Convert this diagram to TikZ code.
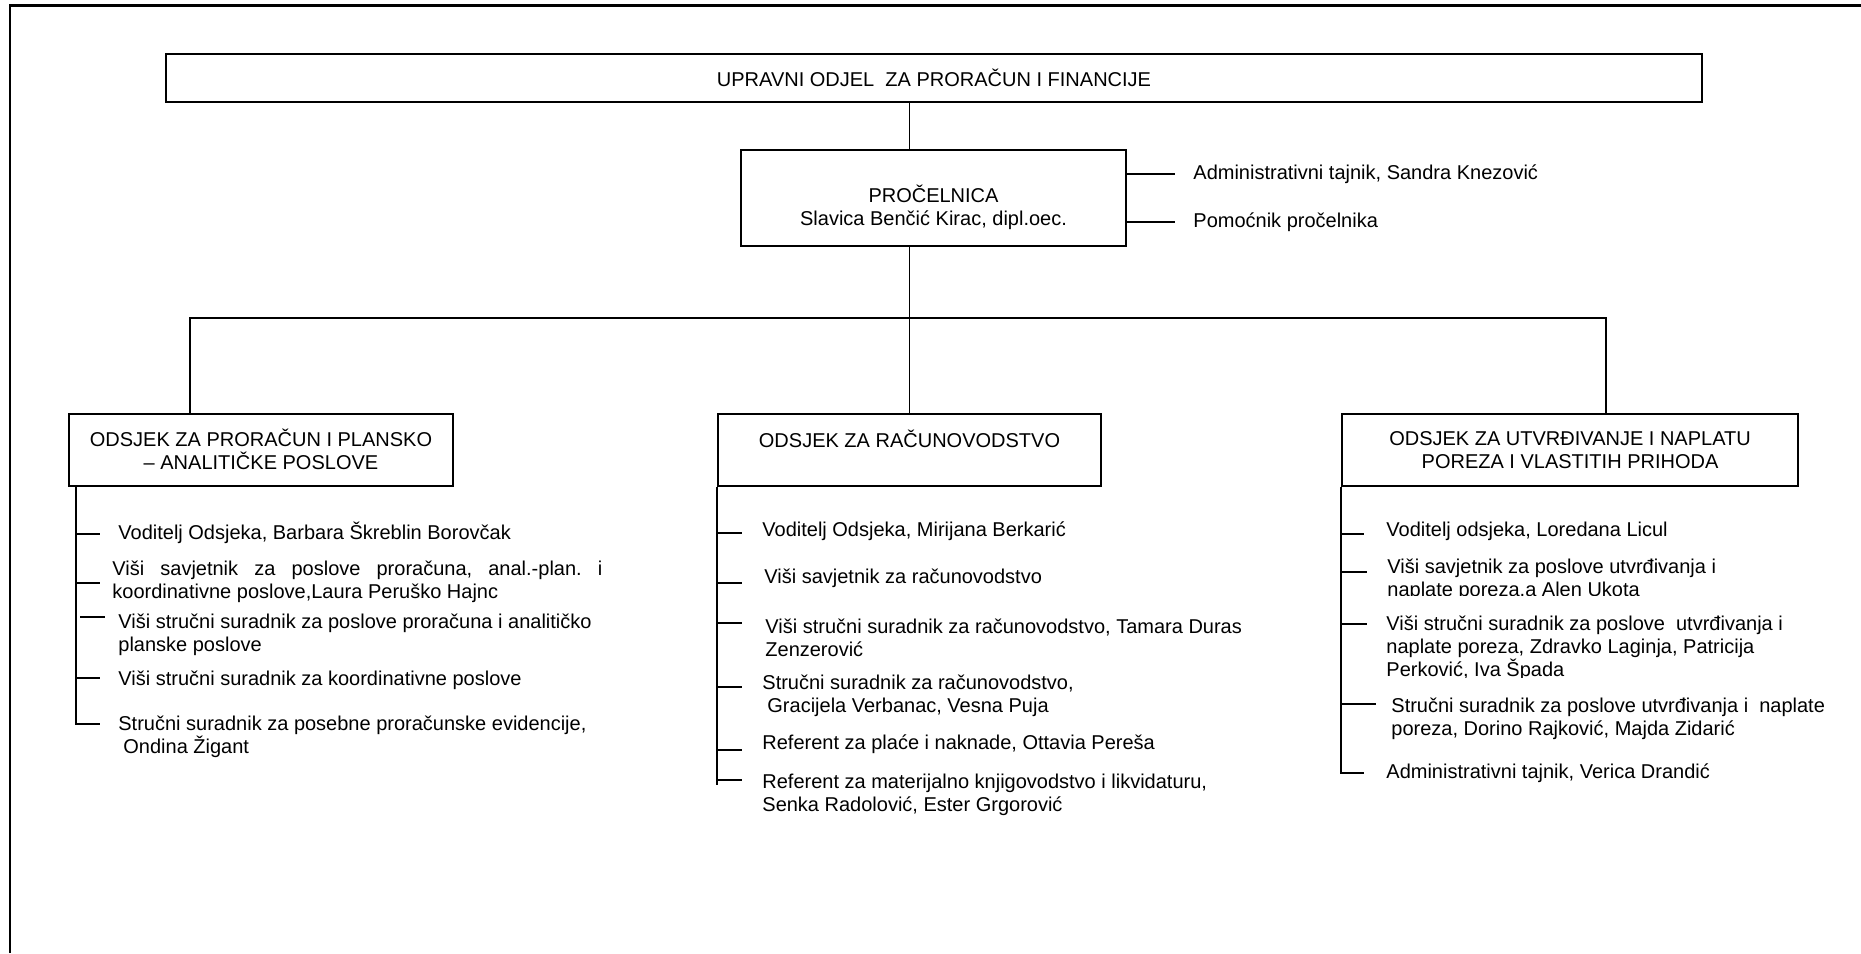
\documentclass[tikz,border=0pt]{standalone}
\usepackage{fontspec}
\setmainfont{Liberation Sans}
\usetikzlibrary{positioning,calc}
\frenchspacing

\begin{document}
\begin{tikzpicture}[
    x=0.5pt, y=-0.5pt,
    every node/.style={font=\fontsize{10}{11.5}\selectfont},
    unit/.style={
      rectangle, draw=black, line width=1pt,
      align=center, inner sep=0pt
    },
    post/.style={anchor=west, inner sep=0pt, align=left},
    link/.style={line width=0.8pt},
    frame/.style={line width=1.3pt}
  ]
  \useasboundingbox (0,0) rectangle (1861,953);
  % outer frame
  \draw[frame] (10,953) -- (10,5.5) -- (1861,5.5);

  % Nodes -- top
  \node[unit, minimum width=768pt, minimum height=24pt] (odjel) at (934,78) {UPRAVNI ODJEL\ \ ZA PRORAČUN I FINANCIJE};
  \node[unit, minimum width=192.5pt, minimum height=48pt] (head) at (933.5,198) {};
  \node[align=center, inner sep=0pt] (headtxt) at ([yshift=-4.5pt]head.center) {PROČELNICA\\Slavica Benčić Kirac, dipl.oec.};
  \node[post] (tajnik) at (1193,174) {Administrativni tajnik, Sandra Knezović};
  \node[post] (pomocnik) at (1193,222) {Pomoćnik pročelnika};
  % Nodes -- departments
  \node[unit, minimum width=192pt, minimum height=36pt] (plan) at (261,449.5) {ODSJEK ZA PRORAČUN I PLANSKO\\– ANALITIČKE POSLOVE};
  \node[unit, minimum width=191.5pt, minimum height=36pt] (racun) at (909.5,450) {ODSJEK ZA RAČUNOVODSTVO\\\vphantom{POSLOVE}};
  \node[unit, minimum width=228pt, minimum height=36pt] (porez) at (1570,450) {ODSJEK ZA UTVRĐIVANJE I NAPLATU\\POREZA I VLASTITIH PRIHODA};

  % Nodes -- left column
  \node[post] (pl1) at (118,533) {Voditelj Odsjeka, Barbara Škreblin Borovčak};
  \node[post] (pl2) at (112,582) {\makebox[245pt][s]{Viši savjetnik za poslove proračuna, anal.-plan. i}\\koordinativne poslove,Laura Peruško Hajnc};
  \node[post] (pl3) at (118,634.5) {Viši stručni suradnik za poslove proračuna i analitičko\\planske poslove};
  \node[post] (pl4) at (118,680) {Viši stručni suradnik za koordinativne poslove};
  \node[post] (pl5) at (118,736.5) {Stručni suradnik za posebne proračunske evidencije,\\\hspace{2.5pt}Ondina Žigant};
  % Nodes -- middle column
  \node[post] (ra1) at (762,531) {Voditelj Odsjeka, Mirijana Berkarić};
  \node[post] (ra2) at (764,578) {Viši savjetnik za računovodstvo};
  \node[post] (ra3) at (765,637.5) {Viši stručni suradnik za računovodstvo, Tamara Duras\\Zenzerović};
  \node[post] (ra4) at (762,695.5) {Stručni suradnik za računovodstvo,\\\hspace{2.5pt}Gracijela Verbanac, Vesna Puja};
  \node[post] (ra5) at (762,744) {Referent za plaće i naknade, Ottavia Pereša};
  \node[post] (ra6) at (762,795) {Referent za materijalno knjigovodstvo i likvidaturu,\\Senka Radolović, Ester Grgorović};
  % Nodes -- right column (two of them cut off at the bottom)
  \node[post] (po1) at (1386,531) {Voditelj odsjeka, Loredana Licul};
  \begin{scope}
    \clip (1380,545) rectangle (1800,595);
    \node[post] (po2) at (1387,579.5) {Viši savjetnik za poslove utvrđivanja i\\naplate poreza,a Alen Ukota};
  \end{scope}
  \begin{scope}
    \clip (1380,605) rectangle (1800,677);
    \node[post] (po3) at (1386,648.5) {Viši stručni suradnik za poslove\ \ utvrđivanja i\\naplate poreza, Zdravko Laginja, Patricija\\Perković, Iva Špada};
  \end{scope}
  \node[post] (po4) at (1391,718.5) {Stručni suradnik za poslove utvrđivanja i\ \ naplate\\poreza, Dorino Rajković, Majda Zidarić};
  \node[post] (po5) at (1386,773) {Administrativni tajnik, Verica Drandić};

  % Lines -- top
  \coordinate (busL) at (190,318);
  \coordinate (busR) at (1606,318);
  \draw[link] (odjel.south -| racun.north) -- (head.north -| racun.north);
  \draw[link] (head.south -| racun.north) -- (racun.north);
  \draw[link] (plan.north -| busL) -- (busL) -- (busR) -- (porez.north -| busR);
  \draw[link] (head.east |- tajnik.west) -- ++(48,0);
  \draw[link] (head.east |- pomocnik.west) -- ++(48,0);
  % Lines -- columns
  \coordinate (sL) at (76,0);
  \draw[link] (plan.south -| sL) -- (sL |- 0,724) -- ++(24,0);
  \foreach \y in {534,583,678}
    \draw[link] (sL |- 0,\y) -- ++(24,0);
  \draw[link] ([xshift=2pt]sL |- 0,617) -- ++(25,0);
  \coordinate (sM) at (racun.south west);
  \draw[link] (sM) -- (sM |- 0,785);
  \foreach \y in {533,583,623,687,750,780}
    \draw[link] (sM |- 0,\y) -- ++(25,0);
  \coordinate (sR) at (porez.south west);
  \draw[link] (sR) -- (sR |- 0,773) -- ++(23,0);
  \foreach \y/\len in {534/23,572/26,624/26,704/35}
    \draw[link] (sR |- 0,\y) -- ++(\len,0);
\end{tikzpicture}
\end{document}
